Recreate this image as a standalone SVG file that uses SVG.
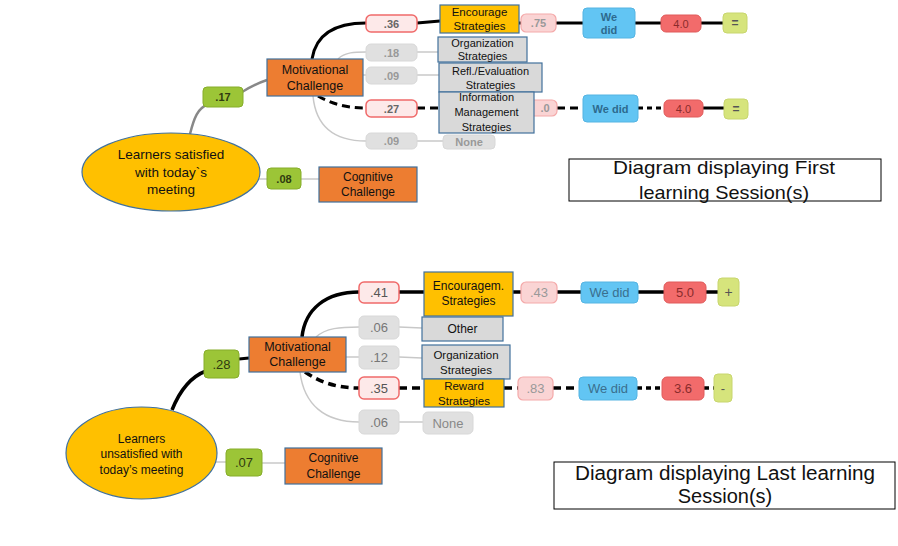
<svg xmlns="http://www.w3.org/2000/svg" width="898" height="546" viewBox="0 0 898 546">
<style>
.t{font-family:"Liberation Sans",Arial,sans-serif;text-anchor:middle;dominant-baseline:central}
.c{font-family:"Liberation Sans",Arial,sans-serif;text-anchor:middle;fill:#111}
.box{stroke:#41719C;stroke-width:1.2}
.or{fill:#ED7D31}.gd{fill:#FFC000}.gy{fill:#D9D9D9}
.pk{fill:#FDE9E9;stroke:#F06A6A;stroke-width:1.5}
.lp{fill:#FAD4D4;stroke:#F4A9A9;stroke-width:1.2}
.gp{fill:#E0E0E0;stroke:#D8D8D8;stroke-width:1}
.gr{fill:#9CC537;stroke:#86AD2A;stroke-width:1}
.bl{fill:#62C5F3;stroke:#55B4E2;stroke-width:1}
.rd{fill:#F26B6B;stroke:#E05A5A;stroke-width:1}
.yg{fill:#D6E47C;stroke:#C8D66E;stroke-width:1}
.ptxt{fill:#666;font-weight:bold}
.blk{fill:none;stroke:#000;stroke-width:3}
.dsh{fill:none;stroke:#000;stroke-width:3;stroke-dasharray:8 5}
.dsh2{fill:none;stroke:#000;stroke-width:3;stroke-dasharray:5 4}
.gl{fill:none;stroke:#C8C8C8;stroke-width:1.5}
.dg{fill:none;stroke:#888;stroke-width:2.5}
.title{fill:#fff;stroke:#000;stroke-width:1}
</style>

<g id="connectors">
  <!-- top diagram -->
  <path class="dg" d="M190 134 C194 118 198 108 207 105"/>
  <path class="dg" d="M242 92 Q255 84 267 80"/>
  <path class="blk" d="M312 59 C316 34 336 23 366 23"/>
  <path class="gl" d="M338 59 C345 52 355 52 366 52"/>
  <path class="gl" d="M363 75 L366 75"/>
  <path class="gl" d="M313 96 C316 128 335 141 366 141"/>
  <path class="dsh" d="M318 96 C330 103 345 108 366 108"/>
  <path class="blk" d="M417 23 L440 21"/>
  <path class="gl" d="M417 52 L438 52"/>
  <path class="gl" d="M417 75 L439 75"/>
  <path class="dsh" d="M417 108 L439 108"/>
  <path class="gl" d="M417 141 L443 141"/>
  <path class="blk" d="M519 23 L521 23"/>
  <path class="blk" d="M556 23 L583 23"/>
  <path class="blk" d="M635 23 L661 23"/>
  <path class="blk" d="M701 23 L723 23"/>
  <path class="dsh" d="M557 108 L583 108"/>
  <path class="dsh2" d="M638 108 L664 108"/>
  <path class="blk" d="M703 108 L724 108"/>
  <path class="gl" d="M258 179 L267 179"/>
  <path class="gl" d="M301 179 L319 179"/>
  <!-- bottom diagram -->
  <path class="blk" style="stroke-width:3.5" d="M172 410 C180 390 190 377 206 371"/>
  <path class="blk" d="M239 359 L249 358"/>
  <path class="blk" style="stroke-width:3.5" d="M302 337 C305 309 326 292 359 292"/>
  <path class="gl" d="M316 337 C326 328 340 327 359 327"/>
  <path class="gl" d="M346 357 L359 357"/>
  <path class="gl" d="M300 372 C304 405 325 422 359 422"/>
  <path class="dsh" style="stroke-width:3.5" d="M305 372 C320 382 336 388 359 388"/>
  <path class="blk" style="stroke-width:3.5" d="M399 292 L424 292"/>
  <path class="gl" d="M399 327 L422 328"/>
  <path class="gl" d="M399 357 L422 358"/>
  <path class="dsh" style="stroke-width:3.5" d="M399 388 L424 388"/>
  <path class="gl" d="M399 422 L423 422"/>
  <path class="blk" style="stroke-width:3.5" d="M513 292 L521 292"/>
  <path class="blk" style="stroke-width:3.5" d="M557 292 L581 292"/>
  <path class="blk" style="stroke-width:3.5" d="M638 292 L664 292"/>
  <path class="blk" style="stroke-width:3.5" d="M706 292 L718 292"/>
  <path class="dsh" style="stroke-width:3.5" d="M504 388 L518 388"/>
  <path class="dsh" style="stroke-width:3.5" d="M553 388 L579 388"/>
  <path class="dsh2" style="stroke-width:3.5" d="M637 388 L662 388"/>
  <path class="dsh2" style="stroke-width:3.5" d="M704 388 L714 388"/>
  <path class="gl" d="M215 462 L226 462"/>
  <path class="gl" d="M262 463 L285 463"/>
</g>

<!-- TOP DIAGRAM -->
<g id="root1">
  <ellipse cx="171" cy="172" rx="89" ry="39" fill="#FFC000" stroke="#41719C" stroke-width="1.2"/>
  <text class="c" font-size="13.5"><tspan x="171" y="159">Learners satisfied</tspan><tspan x="171" y="177">with today`s</tspan><tspan x="171" y="194">meeting</tspan></text>
</g>
<g id="p17"><rect class="gr" x="203" y="87" width="40" height="20" rx="4"/><text class="t ptxt" x="223" y="97" font-size="11" fill="#333" style="fill:#2f3a10">.17</text></g>
<g id="mot1"><rect class="box or" x="267" y="59" width="96" height="37"/><text class="c" font-size="12.5"><tspan x="315" y="74">Motivational</tspan><tspan x="315" y="90">Challenge</tspan></text></g>
<g id="p36"><rect class="pk" x="366" y="15" width="51" height="17" rx="5"/><text class="t ptxt" x="391.5" y="23.5" font-size="11">.36</text></g>
<g id="p18"><rect class="gp" x="366" y="44" width="51" height="17" rx="5"/><text class="t ptxt" x="391.5" y="52.5" font-size="11" style="fill:#999">.18</text></g>
<g id="p09a"><rect class="gp" x="366" y="67" width="51" height="17" rx="5"/><text class="t ptxt" x="391.5" y="75.5" font-size="11" style="fill:#999">.09</text></g>
<g id="p27"><rect class="pk" x="366" y="100" width="51" height="17" rx="5"/><text class="t ptxt" x="391.5" y="108.5" font-size="11">.27</text></g>
<g id="p09b"><rect class="gp" x="366" y="133" width="51" height="16" rx="5"/><text class="t ptxt" x="391.5" y="141" font-size="11" style="fill:#999">.09</text></g>
<g id="none1"><rect class="gp" x="443" y="135" width="52" height="14" rx="4"/><text class="t ptxt" x="469" y="142" font-size="11" style="fill:#999">None</text></g>
<g id="p75"><rect class="lp" x="521" y="14" width="35" height="18" rx="5"/><text class="t ptxt" x="538.5" y="23" font-size="11" style="fill:#999">.75</text></g>
<g id="p40x"><rect class="lp" x="521" y="100" width="36" height="16" rx="5"/><text class="t ptxt" x="545" y="108" font-size="11" style="fill:#999">.0</text></g>
<g id="enc1"><rect class="box gd" x="440" y="5" width="79" height="28"/><text class="c" font-size="11.5"><tspan x="479.5" y="16">Encourage</tspan><tspan x="479.5" y="30">Strategies</tspan></text></g>
<g id="org1"><rect class="box gy" x="438" y="37" width="89" height="25"/><text class="c" font-size="11"><tspan x="482.5" y="47">Organization</tspan><tspan x="482.5" y="60">Strategies</tspan></text></g>
<g id="refl1"><rect class="box gy" x="439" y="63" width="103" height="29"/><text class="c" font-size="11"><tspan x="490.5" y="75">Refl./Evaluation</tspan><tspan x="490.5" y="89">Strategies</tspan></text></g>
<g id="info1"><rect class="box gy" x="439" y="92" width="95" height="41"/><text class="c" font-size="11"><tspan x="486.5" y="101">Information</tspan><tspan x="486.5" y="116">Management</tspan><tspan x="486.5" y="131">Strategies</tspan></text></g>
<g id="wd1"><rect class="bl" x="583" y="8" width="52" height="30" rx="4"/><text class="t ptxt" font-size="11" style="fill:#2d6a8e"><tspan x="609" y="17">We</tspan><tspan x="609" y="30">did</tspan></text></g>
<g id="r40a"><rect class="rd" x="661" y="15" width="40" height="17" rx="5"/><text class="t" x="681" y="23.5" font-size="11" fill="#8a2b2b">4.0</text></g>
<g id="eqa"><rect class="yg" x="723" y="13" width="24" height="20" rx="4"/><text class="t ptxt" x="735" y="23" font-size="12" style="fill:#555">=</text></g>
<g id="wd2"><rect class="bl" x="583" y="95" width="55" height="27" rx="4"/><text class="t ptxt" x="610.5" y="108.5" font-size="11" style="fill:#2d6a8e">We did</text></g>
<g id="r40b"><rect class="rd" x="664" y="100" width="39" height="17" rx="5"/><text class="t" x="683.5" y="108.5" font-size="11" fill="#8a2b2b">4.0</text></g>
<g id="eqb"><rect class="yg" x="724" y="99" width="24" height="20" rx="4"/><text class="t ptxt" x="736" y="109" font-size="12" style="fill:#555">=</text></g>
<g id="p08"><rect class="gr" x="267" y="168" width="34" height="21" rx="4"/><text class="t ptxt" x="284" y="178.5" font-size="11" style="fill:#2f3a10">.08</text></g>
<g id="cog1"><rect class="box or" x="319" y="167" width="98" height="35"/><text class="c" font-size="12"><tspan x="368" y="181">Cognitive</tspan><tspan x="368" y="196">Challenge</tspan></text></g>
<g id="title1"><rect class="title" x="569" y="159" width="312" height="42"/><text class="c" font-size="19"><tspan x="724" y="174" textLength="222" lengthAdjust="spacingAndGlyphs">Diagram displaying First</tspan><tspan x="724" y="199" textLength="170" lengthAdjust="spacingAndGlyphs">learning Session(s)</tspan></text></g>

<!-- BOTTOM DIAGRAM -->
<g id="root2">
  <ellipse cx="141.5" cy="453" rx="75.5" ry="46" fill="#FFC000" stroke="#41719C" stroke-width="1.2"/>
  <text class="c" font-size="12"><tspan x="141.5" y="443">Learners</tspan><tspan x="141.5" y="458">unsatisfied with</tspan><tspan x="141.5" y="474">today’s meeting</tspan></text>
</g>
<g id="p28"><rect class="gr" x="204" y="350" width="35" height="28" rx="4"/><text class="t" x="221.5" y="364" font-size="13" fill="#2f3a10">.28</text></g>
<g id="mot2"><rect class="box or" x="249" y="337" width="97" height="35"/><text class="c" font-size="12.5"><tspan x="297.5" y="351">Motivational</tspan><tspan x="297.5" y="366">Challenge</tspan></text></g>
<g id="p41"><rect class="pk" x="359" y="282" width="40" height="21" rx="5"/><text class="t" x="379" y="292.5" font-size="13" fill="#555">.41</text></g>
<g id="p06a"><rect class="gp" x="359" y="316" width="40" height="23" rx="5"/><text class="t" x="379" y="327.5" font-size="13" fill="#777">.06</text></g>
<g id="p12"><rect class="gp" x="359" y="346" width="40" height="23" rx="5"/><text class="t" x="379" y="357.5" font-size="13" fill="#777">.12</text></g>
<g id="p35"><rect class="pk" x="359" y="377" width="40" height="22" rx="5"/><text class="t" x="379" y="388" font-size="13" fill="#555">.35</text></g>
<g id="p06b"><rect class="gp" x="359" y="410" width="40" height="24" rx="5"/><text class="t" x="379" y="422" font-size="13" fill="#777">.06</text></g>
<g id="none2"><rect class="gp" x="423" y="412" width="50" height="22" rx="5"/><text class="t" x="448" y="423" font-size="13" fill="#888">None</text></g>
<g id="enc2"><rect class="box gd" x="424" y="272" width="89" height="44"/><text class="c" font-size="12"><tspan x="468.5" y="290">Encouragem.</tspan><tspan x="468.5" y="305">Strategies</tspan></text></g>
<g id="other2"><rect class="box gy" x="422" y="317" width="81" height="24"/><text class="c" font-size="12" x="462.5" y="333">Other</text></g>
<g id="org2"><rect class="box gy" x="422" y="345" width="88" height="34"/><text class="c" font-size="11.5"><tspan x="466" y="359">Organization</tspan><tspan x="466" y="374">Strategies</tspan></text></g>
<g id="rew2"><rect class="box gd" x="424" y="379" width="80" height="28"/><text class="c" font-size="11.5"><tspan x="464" y="390">Reward</tspan><tspan x="464" y="405">Strategies</tspan></text></g>
<g id="p43"><rect class="lp" x="521" y="282" width="36" height="21" rx="5"/><text class="t" x="539" y="292.5" font-size="13" fill="#999">.43</text></g>
<g id="wd3"><rect class="bl" x="581" y="282" width="57" height="21" rx="4"/><text class="t" x="609.5" y="292.5" font-size="13" fill="#3a6f8e">We did</text></g>
<g id="r50"><rect class="rd" x="664" y="282" width="42" height="21" rx="5"/><text class="t" x="685" y="292.5" font-size="13" fill="#8a2b2b">5.0</text></g>
<g id="plus"><rect class="yg" x="718" y="278" width="21" height="28" rx="4"/><text class="t" x="728.5" y="292" font-size="14" fill="#555">+</text></g>
<g id="p83"><rect class="lp" x="518" y="377" width="35" height="23" rx="5"/><text class="t" x="535.5" y="388.5" font-size="13" fill="#999">.83</text></g>
<g id="wd4"><rect class="bl" x="579" y="377" width="58" height="23" rx="4"/><text class="t" x="608" y="388.5" font-size="13" fill="#3a6f8e">We did</text></g>
<g id="r36"><rect class="rd" x="662" y="377" width="42" height="23" rx="5"/><text class="t" x="683" y="388.5" font-size="13" fill="#8a2b2b">3.6</text></g>
<g id="minus"><rect class="yg" x="714" y="374" width="18" height="28" rx="4"/><text class="t" x="723" y="388" font-size="13" fill="#555">-</text></g>
<g id="p07"><rect class="gr" x="226" y="449" width="36" height="27" rx="4"/><text class="t" x="244" y="462.5" font-size="13" fill="#2f3a10">.07</text></g>
<g id="cog2"><rect class="box or" x="285" y="448" width="97" height="36"/><text class="c" font-size="12"><tspan x="333.5" y="462">Cognitive</tspan><tspan x="333.5" y="478">Challenge</tspan></text></g>
<g id="title2"><rect class="title" x="554" y="462" width="341" height="47"/><text class="c" font-size="20"><tspan x="725" y="480" textLength="300" lengthAdjust="spacingAndGlyphs">Diagram displaying Last learning</tspan><tspan x="725" y="503">Session(s)</tspan></text></g>
</svg>
